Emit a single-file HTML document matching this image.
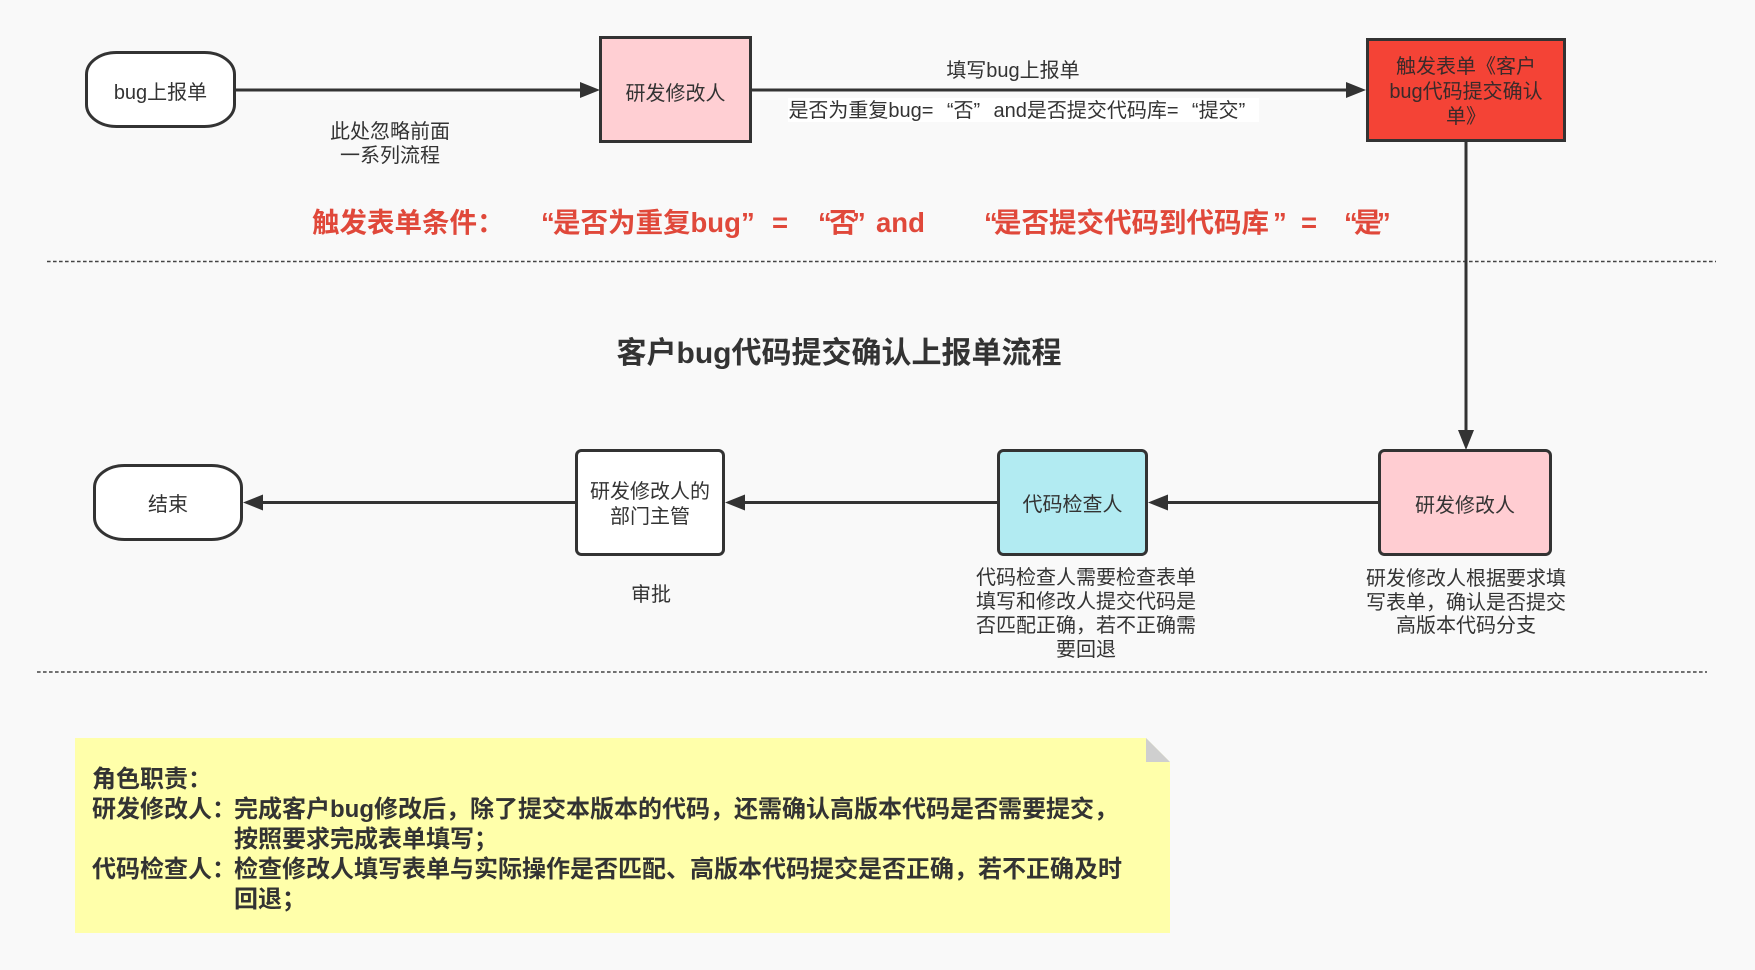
<!DOCTYPE html>
<html>
<head>
<meta charset="utf-8">
<style>
  html,body{margin:0;padding:0;}
  body{width:1755px;height:970px;position:relative;overflow:hidden;background:#f9f9f9;
       font-family:"Liberation Sans","Noto Sans CJK SC",sans-serif;color:#333;}
  svg{position:absolute;left:0;top:0;}
  .t{position:absolute;white-space:nowrap;font-size:20px;line-height:24px;text-align:center;transform:translateX(-50%);}
  .q1{display:inline-block;width:1em;text-align:right;}
  .q2{display:inline-block;width:1em;text-align:left;}
  .r{position:absolute;white-space:nowrap;font-size:27.5px;line-height:30px;font-weight:bold;color:#e0483a;top:208px;}
  .n{position:absolute;white-space:nowrap;font-size:24px;line-height:30px;font-weight:bold;color:#333;}
</style>
</head>
<body>
<svg width="1755" height="970" viewBox="0 0 1755 970">
  <!-- dashed separators -->
  <line x1="47" y1="261.5" x2="1716" y2="261.5" stroke="#444" stroke-width="1.6" stroke-dasharray="3.6 2.4"/>
  <line x1="37" y1="672" x2="1707" y2="672" stroke="#444" stroke-width="1.6" stroke-dasharray="3.6 2.4"/>

  <!-- note -->
  <polygon points="75,738 1146,738 1170,762 1170,933 75,933" fill="#ffffaa"/>
  <polygon points="1146,738 1146,762 1170,762" fill="#cfcfcf"/>

  <!-- connectors -->
  <g stroke="#333" stroke-width="3" fill="none">
    <line x1="236" y1="90" x2="583" y2="90"/>
    <line x1="752" y1="90" x2="1349" y2="90"/>
    <line x1="1466" y1="142" x2="1466" y2="432"/>
    <line x1="1378" y1="502.5" x2="1165" y2="502.5"/>
    <line x1="997" y1="502.5" x2="742" y2="502.5"/>
    <line x1="575" y1="502.5" x2="260" y2="502.5"/>
  </g>
  <g fill="#333">
    <polygon points="580,82 600,90 580,98"/>
    <polygon points="1346,82 1366,90 1346,98"/>
    <polygon points="1458,430 1466,450 1474,430"/>
    <polygon points="1168,494.5 1148,502.5 1168,510.5"/>
    <polygon points="745,494.5 725,502.5 745,510.5"/>
    <polygon points="263,494.5 243,502.5 263,510.5"/>
  </g>

  <!-- nodes -->
  <g stroke="#333" stroke-width="3">
    <rect x="86.5" y="52.5" width="148" height="74" rx="30" ry="22" fill="#ffffff"/>
    <rect x="600.5" y="37.5" width="150" height="104" fill="#ffcfd3"/>
    <rect x="1367.5" y="39.5" width="197" height="101" fill="#f44336"/>
    <rect x="94.5" y="465.5" width="147" height="74" rx="30" ry="22" fill="#ffffff"/>
    <rect x="576.5" y="450.5" width="147" height="104" rx="5" ry="5" fill="#ffffff"/>
    <rect x="998.5" y="450.5" width="148" height="104" rx="5" ry="5" fill="#b2ebf2"/>
    <rect x="1379.5" y="450.5" width="171" height="104" rx="5" ry="5" fill="#ffcdd2"/>
  </g>
</svg>

<!-- top row labels -->
<div class="t" style="left:160.5px;top:81px;">bug上报单</div>
<div class="t" style="left:675.5px;top:82px;">研发修改人</div>
<div class="t" style="left:390px;top:120px;">此处忽略前面<br>一系列流程</div>
<div class="t" style="left:1013px;top:59px;">填写bug上报单</div>
<div style="position:absolute;left:788px;top:98px;width:471px;height:24px;background:#fff;"></div>
<div class="t" style="left:1023.5px;top:99px;">是否为重复bug=<span class="q1">“</span>否<span class="q2">”</span>and是否提交代码库=<span class="q1">“</span>提交<span class="q2">”</span></div>
<div class="t" style="left:1466px;top:55px;line-height:25px;color:#3a2a2a;">触发表单《客户<br>bug代码提交确认<br>单》</div>

<!-- red condition title -->
<div class="r" style="left:312px;">触发表单条件：</div>
<div class="r" style="left:541px;">“</div>
<div class="r" style="left:553px;">是否为重复bug</div>
<div class="r" style="left:741px;">”</div>
<div class="r" style="left:772px;">=</div>
<div class="r" style="left:818px;">“</div>
<div class="r" style="left:829px;">否</div>
<div class="r" style="left:852px;">”</div>
<div class="r" style="left:876px;">and</div>
<div class="r" style="left:984px;">“</div>
<div class="r" style="left:994px;">是否提交代码到代码库</div>
<div class="r" style="left:1273px;">”</div>
<div class="r" style="left:1301px;">=</div>
<div class="r" style="left:1344px;">“</div>
<div class="r" style="left:1354px;">是</div>
<div class="r" style="left:1377px;">”</div>

<!-- main title -->
<div class="t" style="left:839px;top:337px;font-size:30px;line-height:34px;font-weight:bold;">客户bug代码提交确认上报单流程</div>

<!-- second row labels -->
<div class="t" style="left:168px;top:493px;">结束</div>
<div class="t" style="left:650px;top:480px;line-height:25px;">研发修改人的<br>部门主管</div>
<div class="t" style="left:1072.5px;top:493px;">代码检查人</div>
<div class="t" style="left:1465px;top:494px;">研发修改人</div>
<div class="t" style="left:651px;top:583px;">审批</div>
<div class="t" style="left:1086px;top:566px;">代码检查人需要检查表单<br>填写和修改人提交代码是<br>否匹配正确，若不正确需<br>要回退</div>
<div class="t" style="left:1466px;top:568px;line-height:23.5px;">研发修改人根据要求填<br>写表单，确认是否提交<br>高版本代码分支</div>

<!-- note text -->
<div class="n" style="left:92px;top:765px;">角色职责：</div>
<div class="n" style="left:92px;top:795px;">研发修改人：</div>
<div class="n" style="left:234px;top:795px;">完成客户bug修改后，除了提交本版本的代码，还需确认高版本代码是否需要提交，</div>
<div class="n" style="left:234px;top:825px;">按照要求完成表单填写；</div>
<div class="n" style="left:92px;top:855px;">代码检查人：</div>
<div class="n" style="left:234px;top:855px;">检查修改人填写表单与实际操作是否匹配、高版本代码提交是否正确，若不正确及时</div>
<div class="n" style="left:234px;top:885px;">回退；</div>
</body>
</html>
